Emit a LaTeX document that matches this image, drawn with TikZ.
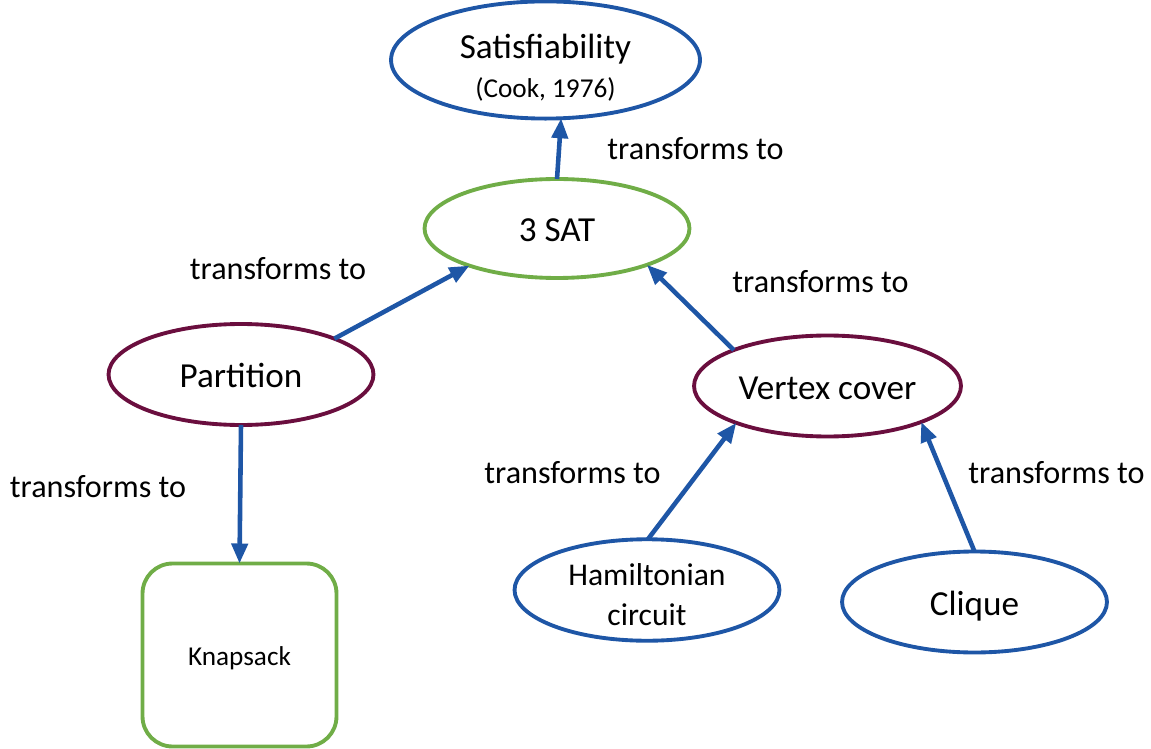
\documentclass[tikz,border=0pt]{standalone}
\usepackage{fontspec}
\setmainfont{Carlito}
\usetikzlibrary{shapes.geometric,arrows.meta}
\definecolor{linkblue}{RGB}{30,86,166}
\definecolor{leafgreen}{RGB}{112,173,71}
\definecolor{plum}{RGB}{106,14,62}
\tikzset{
  oval/.style={ellipse,draw,line width=2.2pt,inner sep=0pt,outer sep=0pt,
    minimum width=5.3cm,minimum height=2.02cm,align=center,
    font=\fontsize{20}{24}\selectfont},
  oneline/.style={text height=15pt,text depth=0pt},
  bluenode/.style={oval,draw=linkblue},
  greennode/.style={oval,draw=leafgreen},
  plumnode/.style={oval,draw=plum},
  boxnode/.style={rectangle,draw=leafgreen,line width=2.2pt,rounded corners=0.6cm,
    minimum width=3.88cm,minimum height=3.66cm,inner sep=0pt,outer sep=0pt,
    text height=12.2pt,text depth=0pt,
    font=\fontsize{15.5}{18}\selectfont},
  link/.style={draw=linkblue,line width=2.6pt,
    -{Triangle[length=0.4cm,width=0.32cm]}},
  tag/.style={font=\fontsize{18.3}{22}\selectfont,inner sep=0pt}
}
\begin{document}
\begin{tikzpicture}[x=0.02cm,y=-0.02cm]
\useasboundingbox (0,0) rectangle (1151,749);

% problems
\node[bluenode,minimum width=6.18cm,minimum height=1.96cm] (sat) at (545.5,60)
  {\rule{0pt}{23pt}Satisfiability\\[-2pt]{\fontsize{15.5}{18}\selectfont (Cook, 1976)}};
\node[greennode,oneline,minimum height=1.98cm] (three) at (557,228.5) {3 SAT};
\node[plumnode,oneline] (part) at (241,374.5) {Partition};
\node[plumnode,oneline,minimum width=5.34cm] (vc) at (827.5,386) {Vertex cover};
\node[bluenode,font=\fontsize{18}{22}\selectfont] (ham) at (647,590)
  {\rule{0pt}{18pt}Hamiltonian\\[0.7pt]circuit};
\node[bluenode,oneline] (clq) at (974.5,602) {Clique};
\node[boxnode] (knap) at (239.5,655) {Knapsack};

% reductions
\draw[link] (three.90) -- (sat.-75);
\draw[link] (part.21.75) -- (three.-157.7);
\draw[link] (vc.159.1) -- (three.-22.1);
\draw[link] (part.south) -- (knap.north);
\draw[link] (ham.89) -- (vc.-158.6);
\draw[link] (clq.north) -- (vc.-21.2);

% edge labels
\node[tag] (t1) at (695.5,149) {transforms to};
\node[tag] (t2) at (278,269) {transforms to};
\node[tag] (t3) at (820.5,282) {transforms to};
\node[tag] (t4) at (98,487) {transforms to};
\node[tag] (t5) at (572.5,473) {transforms to};
\node[tag] (t6) at (1056.5,473) {transforms to};
\end{tikzpicture}
\end{document}
